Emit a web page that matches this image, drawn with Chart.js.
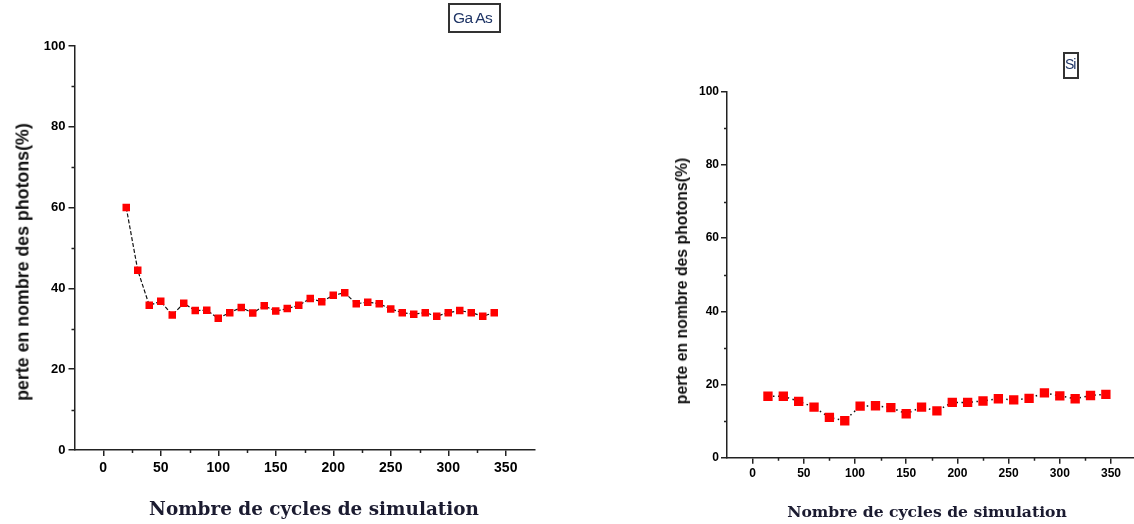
<!DOCTYPE html>
<html>
<head>
<meta charset="utf-8">
<script src="https://cdn.jsdelivr.net/npm/chart.js@4.4.1/dist/chart.umd.min.js"></script>
<style>
  html, body { margin: 0; padding: 0; background: #fff; overflow: hidden; width: 1134px; height: 524px; }
  #wrap { position: relative; width: 1134px; height: 524px; overflow: hidden; background: #fff; }
  canvas { position: absolute; top: 0; }
  #cGaAs { left: 0; }
  #cSi { left: 567px; }
  .ytitle { position: absolute; font-family: "Liberation Sans", Arial, sans-serif; font-weight: bold; color: #111;
            white-space: nowrap; transform: translate(-50%, -50%) rotate(-90deg); }
  .xtitle { position: absolute; font-family: "DejaVu Serif", serif; font-weight: bold; color: #1b1b30;
            white-space: nowrap; transform: translate(-50%, -50%); }
  .tag { position: absolute; border: 2px solid #333; box-sizing: border-box; white-space: nowrap;
         font-family: "Liberation Sans", Arial, sans-serif; color: #1f3566; }
</style>
</head>
<body>
<div id="wrap">
  <canvas id="cGaAs" width="567" height="524"></canvas>
  <canvas id="cSi" width="580" height="524"></canvas>

  <div class="ytitle" style="left:23px; top:262px; font-size:17.8px;">perte en nombre des photons(%)</div>
  <div class="ytitle" style="left:682px; top:281px; font-size:15.8px;">perte en nombre des photons(%)</div>

  <div class="xtitle" style="left:314px; top:508px; font-size:18.4px;">Nombre de cycles de simulation</div>
  <div class="xtitle" style="left:927px; top:511px; font-size:15.6px;">Nombre de cycles de simulation</div>

  <div class="tag" style="left:448px; top:3px; width:53px; height:30px; padding:4px 0 0 3px; font-size:15.5px; line-height:17px; letter-spacing:-0.6px;">Ga As</div>
  <div class="tag" style="left:1063px; top:52px; width:16px; height:27px; padding:2px 0 0 0; font-size:14px; line-height:17px; letter-spacing:-1px;">Si</div>
</div>

<script>
// GaAs: photon loss versus number of simulation cycles
const gaasCycles = [20, 30, 40, 50, 60, 70, 80, 90, 100, 110, 120, 130, 140, 150, 160, 170, 180,
                    190, 200, 210, 220, 230, 240, 250, 260, 270, 280, 290, 300, 310, 320, 330, 340];
const gaasLoss   = [60, 44.5, 35.8, 36.8, 33.4, 36.3, 34.5, 34.6, 32.6, 34.0, 35.3, 33.9, 35.7, 34.4, 35.0, 35.8, 37.5,
                    36.7, 38.3, 38.9, 36.2, 36.6, 36.2, 34.9, 34.0, 33.6, 34.0, 33.1, 34.0, 34.5, 34.0, 33.1, 34.0];

// Si: photon loss versus number of simulation cycles
const siCycles = [15, 30, 45, 60, 75, 90, 105, 120, 135, 150, 165, 180, 195, 210, 225, 240, 255, 270, 285, 300, 315, 330, 345];
const siLoss   = [16.8, 16.8, 15.4, 13.8, 11.0, 10.1, 14.1, 14.2, 13.7, 12.0, 13.8, 12.8, 15.1, 15.1, 15.5, 16.1, 15.8, 16.2,
                  17.7, 16.9, 16.1, 17.0, 17.3];

// Axis ticks
const xTickValues = [0, 50, 100, 150, 200, 250, 300, 350];
const xMinorTicks = [25, 75, 125, 175, 225, 275, 325];
const yTickValues = [0, 20, 40, 60, 80, 100];
const yMinorTicks = [10, 30, 50, 70, 90];

// Short unlabeled ticks between the labeled ones
const minorTickPlugin = {
  id: 'minorTicks',
  afterDraw(chart, args, opts) {
    const { ctx } = chart;
    const x = chart.scales.x, y = chart.scales.y;
    ctx.save();
    ctx.strokeStyle = opts.color;
    ctx.lineWidth = opts.width;
    ctx.beginPath();
    opts.xValues.forEach(v => {
      const px = Math.round(x.getPixelForValue(v)) + 0.5;
      ctx.moveTo(px, x.top);
      ctx.lineTo(px, x.top + opts.length);
    });
    opts.yValues.forEach(v => {
      const py = Math.round(y.getPixelForValue(v)) + 0.5;
      ctx.moveTo(y.right, py);
      ctx.lineTo(y.right - opts.length, py);
    });
    ctx.stroke();
    ctx.restore();
  }
};

function buildChart(canvasId, xs, ys, look) {
  const points = xs.map((x, i) => ({ x: x, y: ys[i] }));
  const family = '"Liberation Sans", Arial, sans-serif';
  return new Chart(document.getElementById(canvasId), {
    type: 'scatter',
    data: {
      datasets: [{
        data: points,
        showLine: true,
        borderColor: '#111',
        borderWidth: look.lineWidth,
        borderDash: look.dash,
        pointStyle: 'rect',
        pointRadius: look.markerRadius,
        pointHoverRadius: look.markerRadius,
        pointBackgroundColor: '#ff0000',
        pointBorderColor: '#ff0000',
        pointBorderWidth: 0
      }]
    },
    options: {
      responsive: false,
      animation: false,
      devicePixelRatio: 1,
      events: [],
      layout: { padding: { left: 0, top: look.top, right: look.padRight, bottom: 0 } },
      plugins: {
        legend: { display: false },
        tooltip: { enabled: false },
        minorTicks: { xValues: xMinorTicks, yValues: yMinorTicks, length: 3, color: '#222', width: 1.5 }
      },
      scales: {
        x: {
          type: 'linear',
          min: -25, max: 375,
          afterBuildTicks: a => { a.ticks = xTickValues.map(v => ({ value: v })); },
          afterFit: s => { s.height = look.xHeight; s.paddingLeft = 0; s.paddingRight = 0; },
          grid: { drawOnChartArea: false, tickLength: 6, color: '#222', lineWidth: 1.5 },
          border: { color: '#222', width: 1.5 },
          ticks: { font: { family: family, size: look.xFont, weight: 'bold' }, color: '#000',
                   padding: look.xPad, maxRotation: 0, autoSkip: false }
        },
        y: {
          type: 'linear',
          min: 0, max: 100,
          afterBuildTicks: a => { a.ticks = yTickValues.map(v => ({ value: v })); },
          afterFit: s => { s.width = look.yWidth; s.paddingTop = 0; s.paddingBottom = 0; },
          grid: { drawOnChartArea: false, tickLength: 6, color: '#222', lineWidth: 1.5 },
          border: { color: '#222', width: 1.5 },
          ticks: { font: { family: family, size: look.yFont, weight: 'bold' }, color: '#000',
                   padding: look.yPad, autoSkip: false }
        }
      }
    },
    plugins: [minorTickPlugin]
  });
}

buildChart('cGaAs', gaasCycles, gaasLoss, {
  top: 46, padRight: 32.5, xHeight: 74, yWidth: 74.5,
  xFont: 14, yFont: 13, xPad: 4, yPad: 3,
  lineWidth: 1.2, dash: [4, 2], markerRadius: 5.3
});

buildChart('cSi', siCycles, siLoss, {
  top: 91.7, padRight: 10.4, xHeight: 66.3, yWidth: 160,
  xFont: 12, yFont: 12, xPad: 3, yPad: 2,
  lineWidth: 1.5, dash: [1.5, 3.5], markerRadius: 6.6
});
</script>
</body>
</html>
